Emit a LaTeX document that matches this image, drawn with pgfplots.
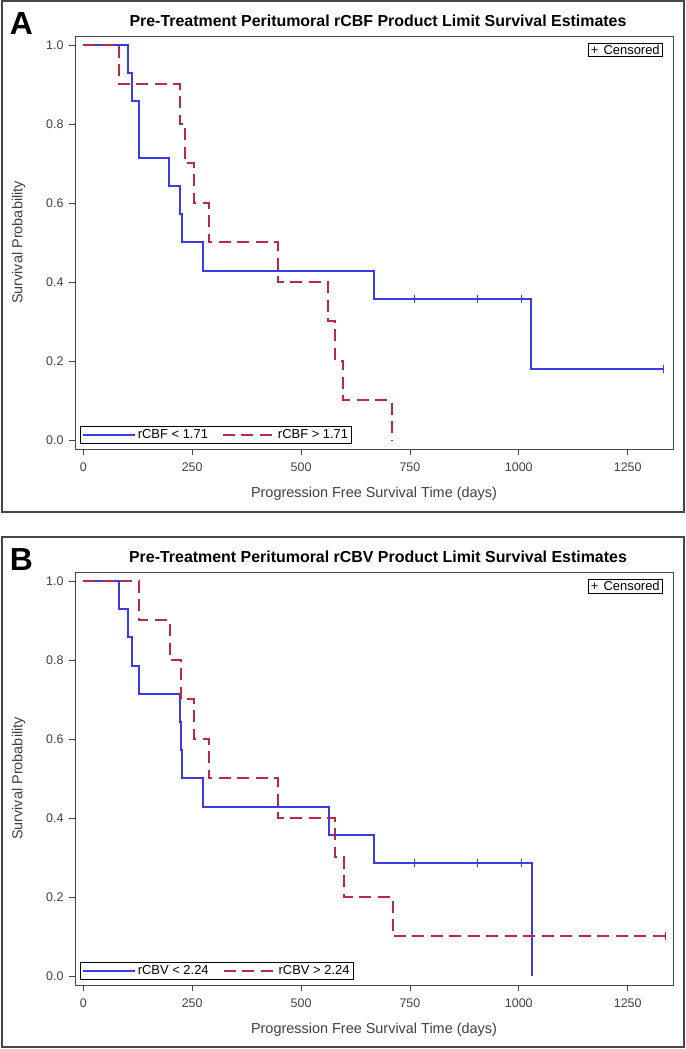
\documentclass[border=0pt]{standalone}
\usepackage{fontspec}
\setmainfont{Liberation Sans}
\usepackage{pgfplots}
\pgfplotsset{compat=1.18}
\definecolor{kmblue}{RGB}{60,60,228}
\definecolor{kmred}{RGB}{188,40,72}
\definecolor{framegray}{RGB}{70,70,70}
\pgfplotsset{
  kmaxis/.style={
    scale only axis, width=598bp, height=413bp,
    anchor=south west,
    xmin=-19, xmax=1354, ymin=-0.0228, ymax=1.0228,
    axis line style={framegray, line width=0.9bp},
    tick style={framegray, line width=0.8bp},
    tick align=outside, major tick length=6bp,
    xtick pos=bottom, ytick pos=left,
    xtick={0,250,500,750,1000,1250},
    ytick={0,0.2,0.4,0.6,0.8,1.0},
    yticklabel style={/pgf/number format/fixed, /pgf/number format/fixed zerofill, /pgf/number format/precision=1, xshift=-2bp},
    xticklabel style={/pgf/number format/1000 sep={}, yshift=-4bp},
    /pgf/number format/assume math mode=true,
    ticklabel style={font=\fontsize{12.5}{12.5}\selectfont, text=black!75},
    xlabel={Progression Free Survival Time (days)},
    ylabel={Survival Probability},
    label style={font=\fontsize{14.5}{15}\selectfont, text=black!75},
    xlabel style={yshift=-9bp},
    ylabel style={yshift=14bp},
    legend style={at={(5/598,5/413)}, anchor=south west, legend columns=2,
      draw=black, line width=0.6bp, font=\fontsize{13}{13}\selectfont,
      inner sep=1.5bp, row sep=0bp,
      /tikz/every even column/.append style={column sep=12bp}},
    legend image code/.code={\draw[##1] (0bp,0bp) -- (52bp,0bp);},
    legend cell align=left,
    clip=false,
  },
  bluel/.style={kmblue, line width=2bp, const plot, mark=none},
  redl/.style={kmred, line width=2bp, const plot, mark=none, dash pattern=on 12bp off 6.5bp},
  cens/.style={only marks, mark=|, mark size=4bp, mark options={line width=0.9bp, solid}, forget plot},
}
\begin{document}
\begin{tikzpicture}
\useasboundingbox (0bp,0bp) rectangle (686bp,1049bp);
\draw[framegray, line width=1.3bp] (2bp,1048bp) rectangle (684bp,537bp);
\draw[framegray, line width=1.3bp] (2bp,512bp) rectangle (684bp,2bp);
\node[font=\fontsize{32}{32}\selectfont\bfseries] at (21.5bp,1025.5bp) {A};
\node[font=\fontsize{32}{32}\selectfont\bfseries] at (21.5bp,489.5bp) {B};
\node[font=\fontsize{16}{16}\selectfont\bfseries] at (378bp,1028bp) {Pre-Treatment Peritumoral rCBF Product Limit Survival Estimates};
\node[font=\fontsize{16}{16}\selectfont\bfseries] at (378bp,492bp) {Pre-Treatment Peritumoral rCBV Product Limit Survival Estimates};

\begin{axis}[kmaxis, at={(75bp,600bp)}]
\addplot[bluel] coordinates {(0,1) (102,0.9286) (111,0.8571) (127,0.7143) (197,0.6429) (223,0.5714) (227,0.5) (276,0.4286) (667,0.3571) (1029,0.1786) (1333,0.1786)};
\addlegendentry{rCBF < 1.71}
\addplot[redl] coordinates {(0,1) (83,0.9) (222,0.8) (234,0.7) (255,0.6) (289,0.5) (446,0.4) (562,0.3) (579,0.2) (597,0.1) (708,0)};
\addlegendentry{rCBF > 1.71}
\addplot[cens, kmblue] coordinates {(760,0.3571) (904,0.3571) (1005,0.3571) (1333,0.1786)};
\node[draw=black, line width=0.6bp, font=\fontsize{13}{13}\selectfont, inner xsep=3bp, inner ysep=2bp, anchor=north east] at (rel axis cs:{(663-75)/598},{(449-43)/413}) {+\hspace{5bp}Censored};
\end{axis}

\begin{axis}[kmaxis, at={(75bp,64bp)}]
\addplot[bluel] coordinates {(0,1) (83,0.9286) (103,0.8571) (112,0.7857) (127,0.7143) (222,0.6429) (224,0.5714) (227,0.5) (276,0.4286) (565,0.3571) (667,0.2857) (1031,0)};
\addlegendentry{rCBV < 2.24}
\addplot[redl] coordinates {(0,1) (128,0.9) (198,0.8) (224,0.7) (255,0.6) (289,0.5) (446,0.4) (579,0.3) (599,0.2) (710,0.1) (1336,0.1)};
\addlegendentry{rCBV > 2.24}
\addplot[cens, kmblue] coordinates {(760,0.2857) (905,0.2857) (1005,0.2857)};
\addplot[cens, kmred] coordinates {(1336,0.1)};
\node[draw=black, line width=0.6bp, font=\fontsize{13}{13}\selectfont, inner xsep=3bp, inner ysep=2bp, anchor=north east] at (rel axis cs:{(663-75)/598},{(449-43)/413}) {+\hspace{5bp}Censored};
\end{axis}
\end{tikzpicture}
\end{document}
